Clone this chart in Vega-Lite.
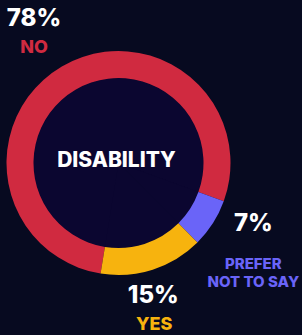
{
  "$schema": "https://vega.github.io/schema/vega-lite/v6.json",
  "autosize": {"type": "none"},
  "width": 237,
  "height": 326,
  "padding": {"left": 0, "top": 0, "right": 65, "bottom": 9},
  "background": "#070a20",
  "config": {"view": {"stroke": null}, "text": {"font": "Inter", "fontWeight": 800}},
  "data": {"values": [
    {"cat": "NO", "name": "NO", "pct": "78%", "value": 78, "ord": 1},
    {"cat": "PREFER NOT TO SAY", "name": "PREFER\nNOT TO SAY", "pct": "7%", "value": 7, "ord": 2},
    {"cat": "YES", "name": "YES", "pct": "15%", "value": 15, "ord": 3}
  ]},
  "encoding": {
    "theta": {"field": "value", "type": "quantitative", "stack": true, "scale": {"range": [3.3022, 9.5854]}},
    "order": {"field": "ord", "type": "quantitative"}
  },
  "layer": [
    {
      "mark": {"type": "arc", "outerRadius": 85, "innerRadius": 0, "fill": "#0b0630", "stroke": "#0b0630", "strokeWidth": 1}
    },
    {
      "mark": {"type": "arc", "outerRadius": 112, "innerRadius": 85},
      "encoding": {
        "color": {"field": "cat", "type": "nominal", "legend": null,
          "scale": {"domain": ["NO", "PREFER NOT TO SAY", "YES"], "range": ["#d02a40", "#6a64f8", "#f7b30e"]}}
      }
    },
    {
      "mark": {"type": "text", "radius": 167, "fontSize": 24, "letterSpacing": 0.3, "fill": "#ffffff", "align": "center", "baseline": "middle"},
      "encoding": {"text": {"condition": {"test": "datum.cat === 'NO'", "field": "pct"}, "value": ""}}
    },
    {
      "mark": {"type": "text", "radius": 167, "dy": 29, "fontSize": 18, "letterSpacing": 0.4, "align": "center", "baseline": "middle"},
      "encoding": {
        "text": {"condition": {"test": "datum.cat === 'NO'", "field": "name"}, "value": ""},
        "color": {"field": "cat", "type": "nominal", "legend": null}
      }
    },
    {
      "mark": {"type": "text", "radius": 160, "dy": -25, "fontSize": 24, "letterSpacing": 0.3, "fill": "#ffffff", "align": "center", "baseline": "middle"},
      "encoding": {"text": {"condition": {"test": "datum.cat === 'PREFER NOT TO SAY'", "field": "pct"}, "value": ""}}
    },
    {
      "mark": {"type": "text", "radius": 160, "dy": 15, "fontSize": 15, "letterSpacing": 0.5, "lineHeight": 18, "lineBreak": "\n", "align": "center", "baseline": "middle"},
      "encoding": {
        "text": {"condition": {"test": "datum.cat === 'PREFER NOT TO SAY'", "field": "name"}, "value": ""},
        "color": {"field": "cat", "type": "nominal", "legend": null}
      }
    },
    {
      "mark": {"type": "text", "radius": 140, "dx": -8, "fontSize": 24, "letterSpacing": 0.3, "fill": "#ffffff", "align": "center", "baseline": "middle"},
      "encoding": {"text": {"condition": {"test": "datum.cat === 'YES'", "field": "pct"}, "value": ""}}
    },
    {
      "mark": {"type": "text", "radius": 140, "dx": -7, "dy": 29, "fontSize": 18, "letterSpacing": 0.4, "align": "center", "baseline": "middle"},
      "encoding": {
        "text": {"condition": {"test": "datum.cat === 'YES'", "field": "name"}, "value": ""},
        "color": {"field": "cat", "type": "nominal", "legend": null}
      }
    },
    {
      "data": {"values": [{"title": "DISABILITY"}]},
      "mark": {"type": "text", "dx": -2, "dy": -2, "fontSize": 21, "letterSpacing": 0.4, "fill": "#ffffff", "align": "center", "baseline": "middle"},
      "encoding": {"theta": null, "order": null, "text": {"field": "title", "type": "nominal"}}
    }
  ]
}
